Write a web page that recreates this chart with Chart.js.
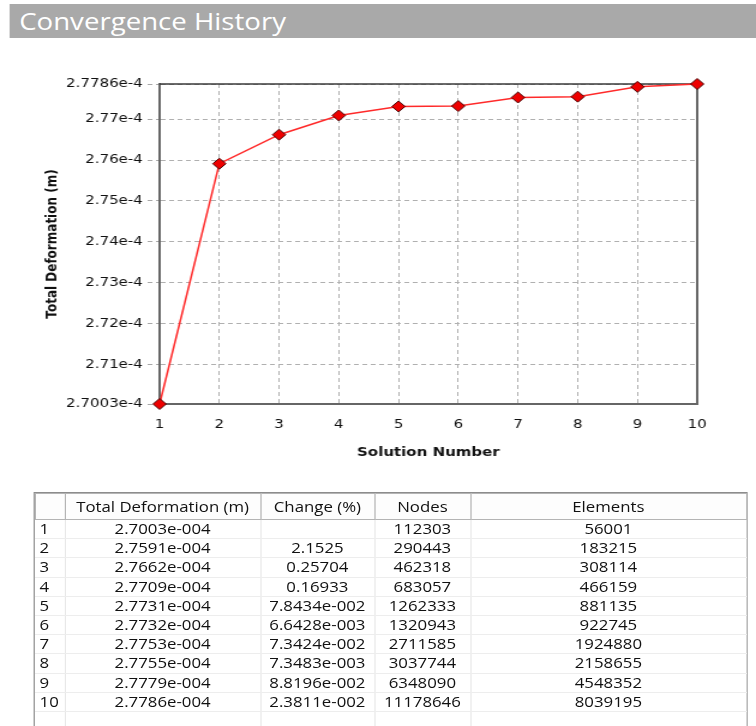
<!DOCTYPE html>
<html>
<head>
<meta charset="utf-8">
<title>Convergence History</title>
<script src="https://cdn.jsdelivr.net/npm/chart.js@4.4.1/dist/chart.umd.min.js"></script>
<style>
  html, body { margin: 0; padding: 0; background: #fff; overflow: hidden; }
  body { width: 756px; height: 726px; }
  /* the reference is a screenshot stretched ~1.2x horizontally, so lay out at 630px and stretch */
  #page { position: absolute; left: 0; top: 0; width: 630px; height: 726px; transform: scaleX(1.2); transform-origin: 0 0; }
  #bar { position: absolute; left: 7.5px; top: 4px; width: 622.5px; height: 34px; background: #a9a9a9; color: #fff;
         font: 23px "Open Sans", sans-serif; line-height: 34px; padding-left: 8.5px; box-sizing: border-box; }
  #chartBox { position: absolute; left: 0; top: 40px; width: 630px; height: 440px; }
  #tableBox { position: absolute; left: 27.5px; top: 492px; width: 595px; height: 240px; border: 1px solid #8c8c8c; box-sizing: border-box; overflow: hidden; }
  table { border-collapse: collapse; table-layout: fixed; width: 593px; font: 14px "Open Sans", sans-serif; color: #111; }
  th { font-weight: normal; height: 25px; padding: 0; border: 1px solid #b4b4b4; background: #fdfdfd; text-align: center; }
  td { height: 18.2px; padding: 0; border-right: 1px solid #e8e8e8; border-bottom: 1px solid #ededed; text-align: center; line-height: 18px; white-space: nowrap; }
  td.idx { text-align: left; padding-left: 4px; }
</style>
</head>
<body>
<div id="page">
  <div id="bar">Convergence History</div>
  <div id="chartBox"><canvas id="convergence-chart" width="630" height="440"></canvas></div>
  <div id="tableBox"><table id="convergence-table"></table></div>
</div>
<script>
const solutions = [1, 2, 3, 4, 5, 6, 7, 8, 9, 10];
const deformation = [2.7003e-4, 2.7591e-4, 2.7662e-4, 2.7709e-4, 2.7731e-4, 2.7732e-4, 2.7753e-4, 2.7755e-4, 2.7779e-4, 2.7786e-4];
const changePct = ["", "2.1525", "0.25704", "0.16933", "7.8434e-002", "6.6428e-003", "7.3424e-002", "7.3483e-003", "8.8196e-002", "2.3811e-002"];
const nodes = [112303, 290443, 462318, 683057, 1262333, 1320943, 2711585, 3037744, 6348090, 11178646];
const elements = [56001, 183215, 308114, 466159, 881135, 922745, 1924880, 2158655, 4548352, 8039195];

const yTicks = [2.7003e-4, 2.71e-4, 2.72e-4, 2.73e-4, 2.74e-4, 2.75e-4, 2.76e-4, 2.77e-4, 2.7786e-4];
const yTickLabels = ["2.7003e-4", "2.71e-4", "2.72e-4", "2.73e-4", "2.74e-4", "2.75e-4", "2.76e-4", "2.77e-4", "2.7786e-4"];
const tableHeaders = ["", "Total Deformation (m)", "Change (%)", "Nodes", "Elements"];

// top and right edge of the plot frame
const frame = {
  id: "frame",
  beforeDatasetsDraw(chart) {
    const { ctx, chartArea: a } = chart;
    ctx.save();
    ctx.strokeStyle = "#3a3a3a";
    ctx.lineWidth = 1.5;
    ctx.beginPath();
    ctx.moveTo(a.left, a.top);
    ctx.lineTo(a.right, a.top);
    ctx.stroke();
    ctx.strokeStyle = "#666";
    ctx.lineWidth = 2;
    ctx.beginPath();
    ctx.moveTo(a.right, a.top);
    ctx.lineTo(a.right, a.bottom);
    ctx.stroke();
    ctx.restore();
  },
};

const tickFont = { family: "DejaVu Sans", size: 12.5 };
const titleFont = { family: "DejaVu Sans", size: 12.5, weight: "bold" };

new Chart(document.getElementById("convergence-chart"), {
  type: "line",
  data: {
    datasets: [
      {
        data: solutions.map((s, i) => ({ x: s, y: deformation[i] })),
        borderColor: "#ff2a2a",
        borderWidth: 1.5,
        pointStyle: "rectRot",
        pointRadius: 5.5,
        pointBackgroundColor: "#ee0000",
        pointBorderColor: "#4a0000",
        pointBorderWidth: 1,
        tension: 0,
        clip: false,
      },
    ],
  },
  options: {
    responsive: false,
    animation: false,
    layout: { padding: { top: 44, right: 49, left: 0, bottom: 0 } },
    plugins: { legend: { display: false }, tooltip: { enabled: false } },
    scales: {
      x: {
        type: "linear",
        min: 1,
        max: 10,
        afterFit: (s) => { s.height = 76; },
        ticks: { stepSize: 1, font: tickFont, color: "#111", padding: 13, maxRotation: 0 },
        grid: { color: "#b0b0b0", drawTicks: false },
        border: { display: true, color: "#666", width: 2, dash: [4, 3] },
        title: { display: true, text: "Solution Number", font: titleFont, color: "#111", padding: { top: 0, bottom: 20 } },
      },
      y: {
        type: "linear",
        min: yTicks[0],
        max: yTicks[yTicks.length - 1],
        afterFit: (s) => { s.width = 133; },
        afterBuildTicks: (s) => { s.ticks = yTicks.map((v) => ({ value: v })); },
        ticks: { font: tickFont, color: "#111", padding: 4, callback: (v, i) => yTickLabels[i] },
        grid: { color: "#b0b0b0", tickLength: 10, tickColor: "#a8a8a8", tickBorderDash: [4, 3] },
        border: { display: true, color: "#666", width: 2, dash: [4, 3] },
        title: { display: true, text: "Total Deformation (m)", font: { family: "DejaVu Sans", size: 12, weight: "bold" }, color: "#111", padding: { top: 37, bottom: 0 } },
      },
    },
  },
  plugins: [frame],
});

// table under the chart
const widths = [25, 163, 95, 80, 230];
let html = "<colgroup>" + widths.map((w) => '<col style="width:' + w + 'px">').join("") + "</colgroup>";
html += "<tr>" + tableHeaders.map((h) => "<th>" + h + "</th>").join("") + "</tr>";
solutions.forEach((s, i) => {
  const d = deformation[i].toExponential(4).replace("e-", "e-00");
  html += '<tr><td class="idx">' + s + "</td><td>" + d + "</td><td>" + changePct[i] + "</td><td>" + nodes[i] + "</td><td>" + elements[i] + "</td></tr>";
});
html += '<tr><td class="idx"></td><td></td><td></td><td></td><td></td></tr>';
document.getElementById("convergence-table").innerHTML = html;
</script>
</body>
</html>
